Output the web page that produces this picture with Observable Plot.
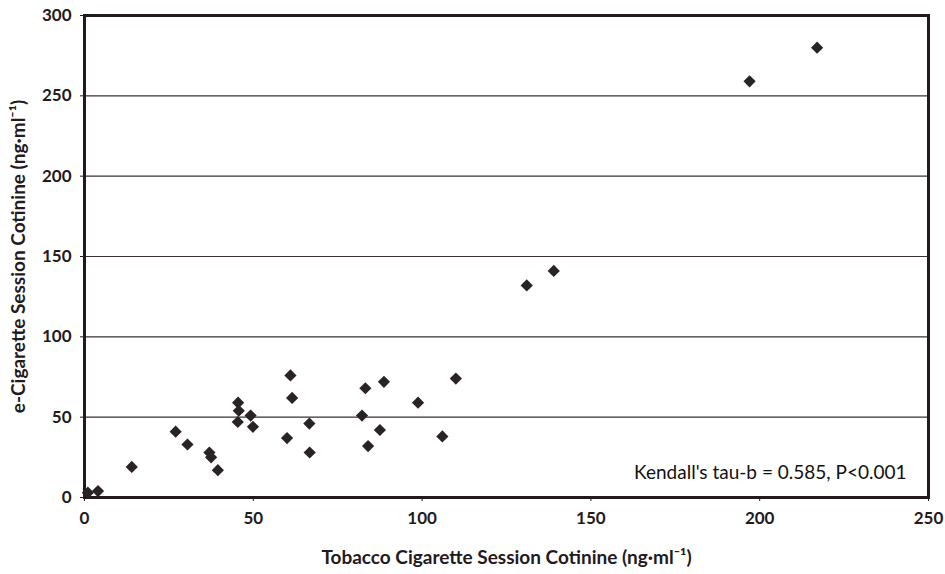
<!DOCTYPE html>
<html>
<head>
<meta charset="utf-8">
<script src="https://cdn.jsdelivr.net/npm/d3@7"></script>
<script src="https://cdn.jsdelivr.net/npm/@observablehq/plot@0.6"></script>
<style>
  html, body { margin: 0; padding: 0; background: #fff; }
  #chart svg { display: block; }
</style>
</head>
<body>
<div id="chart"></div>
<script>
const tobacco = [1, 4, 14, 27, 30.5, 37, 37.5, 39.5, 45.5, 45.7, 45.4, 49.2, 49.9, 61, 61.5, 60, 66.6, 66.7, 83.2, 88.7, 82.2, 87.5, 84, 98.8, 106, 110, 131, 139, 197, 217];
const ecig    = [3, 4, 19, 41, 33, 28, 25, 17, 59, 54, 47, 51, 44, 76, 62, 37, 46, 28, 68, 72, 51, 42, 32, 59, 38, 74, 132, 141, 259, 280];
const xTicks = [0, 50, 100, 150, 200, 250];
const yTicks = [0, 50, 100, 150, 200, 250, 300];
const xLabel = "Tobacco Cigarette Session Cotinine (ng·ml⁻¹)";
const yLabel = "e-Cigarette Session Cotinine (ng·ml⁻¹)";
const note = "Kendall's tau-b = 0.585, P<0.001";

const data = tobacco.map((t, i) => ({t, e: ecig[i]}));
const ink = "#231a1e";

const chart = Plot.plot({
  width: 945,
  height: 574,
  marginLeft: 84,
  marginRight: 17,
  marginTop: 15,
  marginBottom: 77,
  style: {fontFamily: "Lato, 'Open Sans', sans-serif", fontSize: "17px", fontWeight: "bold", color: ink, background: "#fff"},
  x: {domain: [0, 250]},
  y: {domain: [0, 300]},
  marks: [
    Plot.gridY(yTicks.filter(d => d > 0 && d < 300), {stroke: ink, strokeOpacity: 0.9, strokeWidth: 1.2}),
    Plot.axisX(xTicks, {tickSize: 4, tickPadding: 10, fontSize: 17, label: null, stroke: ink}),
    Plot.axisY(yTicks, {tickSize: 4, tickPadding: 9, fontSize: 17, label: null, stroke: ink}),
    Plot.text([xLabel], {frameAnchor: "bottom", dy: 60, text: d => d, fontSize: 19, fontWeight: "bold", fill: ink, lineAnchor: "middle", textAnchor: "middle"}),
    Plot.text([yLabel], {frameAnchor: "left", dx: -66, rotate: -90, text: d => d, fontSize: 19, fontWeight: "bold", fill: ink, lineAnchor: "middle", textAnchor: "middle"}),
    Plot.frame({stroke: ink, strokeWidth: 3}),
    Plot.dot(data, {x: "t", y: "e", symbol: "diamond2", r: 5.5, fill: "#2a2326", stroke: "none"}),
    Plot.text([note], {frameAnchor: "bottom-right", dx: -22, dy: -19, text: d => d, fontSize: 19, fontWeight: "normal", fill: "#111", textAnchor: "end"})
  ]
});
document.getElementById("chart").appendChild(chart);
</script>
</body>
</html>
